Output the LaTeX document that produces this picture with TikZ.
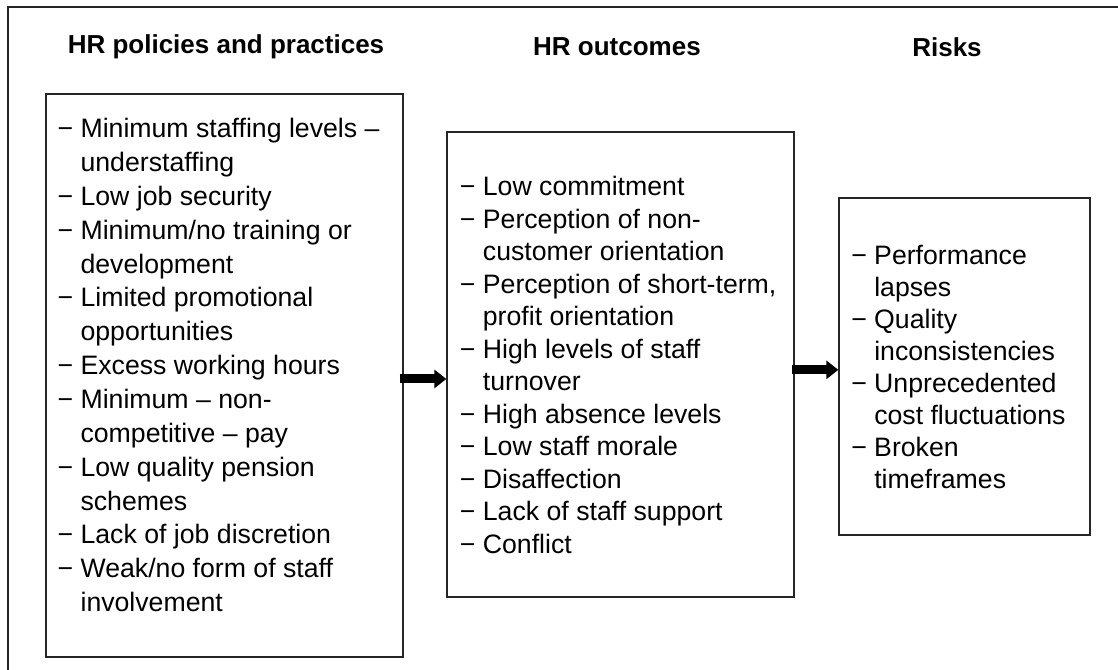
\documentclass[tikz,border=0pt]{standalone}
\usepackage{fontspec}
\setmainfont{Liberation Sans}
\usetikzlibrary{arrows.meta,positioning}
\newcommand\contd{\hphantom{−\ }}

\begin{document}
\begin{tikzpicture}[x=0.75pt,y=-0.75pt,
  frame/.style={draw=black!85,line width=1pt,inner sep=0pt},
  list/.style={align=left,inner sep=0pt,anchor=north west},
  head/.style={font=\fontsize{19.5}{24.4}\selectfont\bfseries}]
\useasboundingbox (0,0) rectangle (1118,670);
\draw[line width=1pt,black!85] (8,670) -- (8,7) -- (1118,7);
\node[head] (polhead) at (226,47) {HR policies and practices};
\node[head] (outhead) at (617,47) {HR outcomes};
\node[head] (riskhead) at (947,47) {Risks};
% the three boxes
\node[frame,minimum width=267.75pt,minimum height=422.25pt] (policies) at (224.5,375.5) {};
\node[frame,minimum width=260.25pt,minimum height=348.75pt] (outcomes) at (620.5,364.5) {};
\node[frame,minimum width=188.25pt,minimum height=252.75pt] (risks) at (964.5,366.5) {};
\node[list,font=\fontsize{20}{25.4}\selectfont] (pollist) at ([xshift=9pt,yshift=-18.5pt]policies.north west) {%
− Minimum staffing levels –\\ \contd understaffing\\
− Low job security\\
− Minimum/no training or\\ \contd development\\
− Limited promotional\\ \contd opportunities\\
− Excess working hours\\
− Minimum – non-\\ \contd competitive – pay\\
− Low quality pension\\ \contd schemes\\
− Lack of job discretion\\
− Weak/no form of staff\\ \contd involvement};
\node[list,font=\fontsize{20}{24.4}\selectfont] (outlist) at ([xshift=10pt,yshift=-33.5pt]outcomes.north west) {%
− Low commitment\\
− Perception of non-\\ \contd customer orientation\\
− Perception of short-term,\\ \contd profit orientation\\
− High levels of staff\\ \contd turnover\\
− High absence levels\\
− Low staff morale\\
− Disaffection\\
− Lack of staff support\\
− Conflict};
\node[list,font=\fontsize{20}{24}\selectfont] (risklist) at ([xshift=9.5pt,yshift=-35.5pt]risks.north west) {%
− Performance\\ \contd lapses\\
− Quality\\ \contd inconsistencies\\
− Unprecedented\\ \contd cost fluctuations\\
− Broken\\ \contd timeframes};
\draw[line width=6.75pt,-{Triangle[length=9pt,width=13.5pt]}]
  ([xshift=-3pt,yshift=-2.6pt]policies.east) -- ([yshift=-2.6pt]policies.east -| outcomes.west);
\draw[line width=6.75pt,-{Triangle[length=9pt,width=13.5pt]}]
  ([xshift=-2pt,yshift=-4pt]outcomes.east) -- ([yshift=-4pt]outcomes.east -| risks.west);
\end{tikzpicture}
\end{document}
